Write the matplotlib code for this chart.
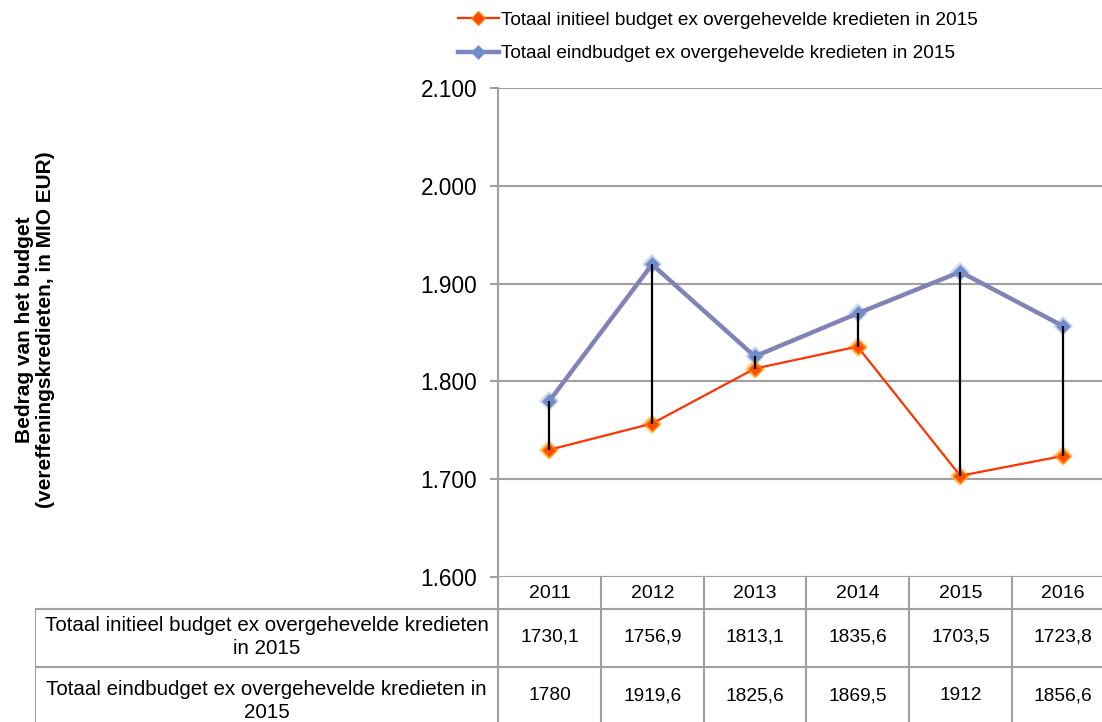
import matplotlib
matplotlib.use("Agg")
import matplotlib.pyplot as plt

plt.rcParams['font.family'] = ['Liberation Sans', 'DejaVu Sans']

# gegevens
jaren = ['2011', '2012', '2013', '2014', '2015', '2016']
initieel = [1730.1, 1756.9, 1813.1, 1835.6, 1703.5, 1723.8]
eind = [1780, 1919.6, 1825.6, 1869.5, 1912, 1856.6]
lbl_init = 'Totaal initieel budget ex overgehevelde kredieten in 2015'
lbl_eind = 'Totaal eindbudget ex overgehevelde kredieten in 2015'
rij_labels = ['Totaal initieel budget ex overgehevelde kredieten\nin 2015',
              'Totaal eindbudget ex overgehevelde kredieten in\n2015']
yticks = [1600, 1700, 1800, 1900, 2000, 2100]

W, H = 1102, 722
fig = plt.figure(figsize=(W / 100, H / 100), dpi=100)

def box(x0, y0, x1, y1):
    # pixels (top-left origin) -> figure fractions
    return [x0 / W, 1 - y1 / H, (x1 - x0) / W, (y1 - y0) / H]

grijs = '#A0A0A0'
x = list(range(len(jaren)))
xmin, xmax = -0.5, 5.38

ax = fig.add_axes(box(498, 88, W, 577))
ax.set_xlim(xmin, xmax)
ax.set_ylim(1600, 2100)
ax.set_yticks(yticks)
ax.set_yticklabels([f"{v // 1000}.{v % 1000:03d}" for v in yticks], fontsize=16.3)
ax.set_xticks([])
ax.tick_params(axis='y', length=6, width=1.5, color=grijs, pad=9)
for s in ['top', 'right', 'bottom']:
    ax.spines[s].set_visible(False)
ax.spines['left'].set_color(grijs)
ax.spines['left'].set_linewidth(1.5)
ax.yaxis.grid(True, color=grijs, lw=1.5)
ax.set_axisbelow(True)

# gloed onder de markers
ax.plot(x, eind, ls='none', marker='D', ms=10, color='#A3B3DD', alpha=0.55, mew=0, zorder=3)
ax.plot(x, initieel, ls='none', marker='D', ms=10.5, color='#FFB23A', alpha=0.75, mew=0, zorder=3)
ax.plot(x, eind, color='#7F83B8', lw=3.2, marker='D', ms=7.5, mfc='#6F8DCB', mec='#7A96D0',
        mew=0.5, label=lbl_eind, zorder=3)
ax.plot(x, initieel, color='#FF3300', lw=1.6, marker='D', ms=7, mfc='#FF4A00', mec='#FF8A00',
        mew=0.8, label=lbl_init, zorder=3)
ax.vlines(x, initieel, eind, color='black', lw=1.6, zorder=4)

h, l = ax.get_legend_handles_labels()
fig.legend(h[::-1], l[::-1], loc='upper left', bbox_to_anchor=(450 / W, 1 - 4 / H),
           frameon=False, fontsize=13.7, handlelength=2.15, handletextpad=0.15,
           labelspacing=0.84, borderaxespad=0)

# datatabel
tax = fig.add_axes(box(35, 577, W, 722))
left = xmin - (498 - 35) / 102.6
tax.set_xlim(left, xmax)
tax.set_ylim(145, 0)
tax.axis('off')
for i in range(len(jaren)):
    tax.plot([i - 0.5, i - 0.5], [0, 145], color=grijs, lw=1.5, clip_on=False)
tax.plot([left, left], [32, 145], color=grijs, lw=1.5)
for yy in [32, 90]:
    tax.plot([left, xmax], [yy, yy], color=grijs, lw=1.5)

for i, j in enumerate(jaren):
    tax.text(i, 17, j, ha='center', va='center', fontsize=14)
rijen = [initieel, eind]
for vals, lab, yc, yl in zip(rijen, rij_labels, [60, 119], [60, 124]):
    tax.text((left - 0.5) / 2, yl, lab, ha='center', va='center', fontsize=14.8,
             linespacing=1.3)
    for i, v in enumerate(vals):
        tax.text(i, yc, f"{v:g}".replace('.', ','), ha='center', va='center', fontsize=13.8)

fig.text(35 / W, 1 - 330 / H, 'Bedrag van het budget\n(vereffeningskredieten, in MIO EUR)',
         rotation=90, ha='center', va='center', fontsize=15, fontweight='bold',
         linespacing=1.1)

fig.savefig('out.png', dpi=100)
